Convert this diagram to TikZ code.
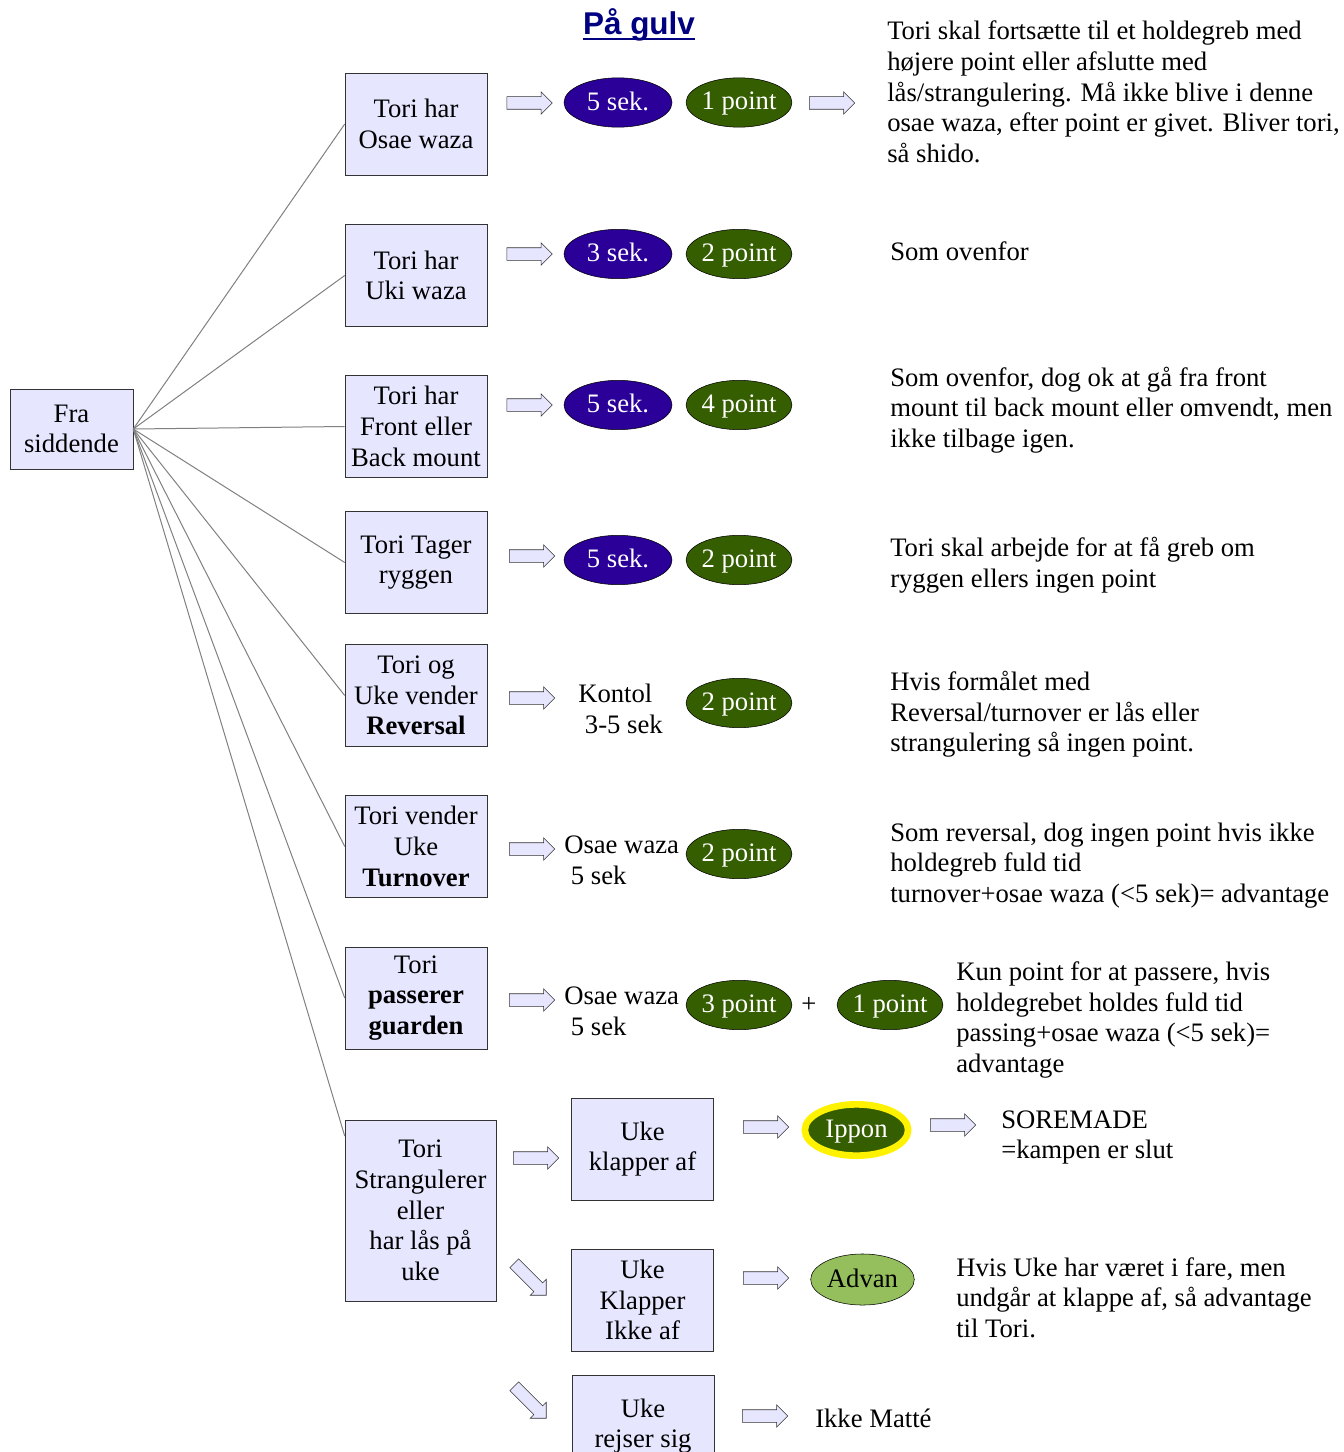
\documentclass[tikz,border=0pt]{standalone}
\usepackage{fontspec}
\setmainfont{Liberation Serif}
\newfontfamily\titlefont{Liberation Sans}
\usepackage{xcolor}
\usetikzlibrary{shapes,arrows,positioning,calc}
\definecolor{boxfill}{HTML}{E6E6FF}
\definecolor{sekblue}{HTML}{2A0099}
\definecolor{ptgreen}{HTML}{355E00}
\definecolor{advgreen}{HTML}{94BF5C}
\definecolor{titleblue}{HTML}{000080}

\begin{document}
\begin{tikzpicture}[x=0.75pt,y=-0.75pt,
  every node/.style={font=\fontsize{20}{23}\selectfont},
  box/.style={draw=black!80, fill=boxfill, align=center, inner sep=0pt,
    minimum width=106.5pt, minimum height=76.5pt},
  sek/.style={ellipse, draw=black, fill=sekblue, text=white, inner sep=0pt,
    minimum width=81pt, minimum height=37pt, text depth=0.2em},
  pt/.style={ellipse, draw=black, fill=ptgreen, text=white, inner sep=0pt,
    minimum width=78pt, minimum height=37pt, text depth=0.2em},
  arr/.style={single arrow, draw=black!80, fill=boxfill, inner xsep=0pt, inner ysep=4.5pt,
    minimum height=34pt, single arrow head extend=3.75pt},
  desc/.style={align=left, anchor=west, inner sep=0pt},
  fan/.style={draw=black!50, line width=0.75pt}]
  \useasboundingbox (0,0) rectangle (1344,1452);

  \node[font=\titlefont\bfseries\fontsize{23.6}{28}\selectfont, text=titleblue, inner sep=0pt] (title) at (639,25) {På gulv};
  \draw[titleblue, line width=1.5pt] ($(title.base west)+(0,4)$) -- ($(title.base east)+(0,4)$);

  \node[box, minimum width=92.25pt, minimum height=60pt] (fra) at (71.5,429) {Fra\\siddende};
  \node[box] (osae) at (416,124) {Tori har\\Osae waza};
  \node[box] (uki) at (416,275.5) {Tori har\\Uki waza};
  \node[box] (mount) at (416,426.5) {Tori har\\Front eller\\Back mount};
  \node[box] (ryg) at (416,562.5) {Tori Tager\\ryggen};
  \node[box] (rev) at (416,695.5) {Tori og\\Uke vender\\\textbf{Reversal}};
  \node[box] (turn) at (416,846.5) {Tori vender\\Uke\\\textbf{Turnover}};
  \node[box] (guard) at (416,998) {Tori\\\textbf{passerer}\\\textbf{guarden}};
  \node[box, minimum width=113.25pt, minimum height=135.75pt] (strang) at (420.5,1210.5)
    {Tori\\Strangulerer\\eller\\har lås på\\uke};
  \node[box] (klap) at (642.5,1149) {Uke\\klapper af};
  \node[box] (ikkeaf) at (642.5,1300) {Uke\\Klapper\\Ikke af};
  \node[box] (rejs) at (643,1426) {Uke\\rejser sig};

  \draw[fan] (fra.east) -- (osae.west);
  \draw[fan] (fra.east) -- (uki.west);
  \draw[fan] (fra.east) -- (mount.west);
  \draw[fan] (fra.east) -- (ryg.west);
  \draw[fan] (fra.east) -- (rev.west);
  \draw[fan] (fra.east) -- (turn.west);
  \draw[fan] (fra.east) -- (guard.west);
  \draw[fan] (fra.east) -- ($(strang.north west)!0.09!(strang.south west)$);

  \node[arr] (a1) at (526.5,103) {};
  \node[sek] (s1) at (618,102.5) {5 sek.};
  \node[pt] (p1) at (739,102.5) {1 point};
  \node[arr] (a1b) at (829,103) {};
  \node[desc] (d1) at (887,92) {Tori skal fortsætte til et holdegreb med\\højere point eller afslutte med\\lås/strangulering. Må ikke blive i denne\\osae waza, efter point er givet. Bliver tori,\\så shido.};

  \node[arr] (a2) at (526.5,254) {};
  \node[sek] (s2) at (618,254) {3 sek.};
  \node[pt] (p2) at (739,254) {2 point};
  \node[desc] (d2) at (890,251) {Som ovenfor};

  \node[arr] (a3) at (526.5,405) {};
  \node[sek] (s3) at (618,405) {5 sek.};
  \node[pt] (p3) at (739,405) {4 point};
  \node[desc] (d3) at (890,410) {Som ovenfor, dog ok at gå fra front\\mount til back mount eller omvendt, men\\ikke tilbage igen.};

  \node[arr] (a4) at (529,556) {};
  \node[sek] (s4) at (618,560) {5 sek.};
  \node[pt] (p4) at (739,560) {2 point};
  \node[desc] (d4) at (890,565.5) {Tori skal arbejde for at få greb om\\ryggen ellers ingen point};

  \node[arr] (a5) at (529,698) {};
  \node[desc] (k5) at (578,709) {Kontol\\\hspace*{0.25em}3-5 sek};
  \node[pt] (p5) at (739,703) {2 point};
  \node[desc] (d5) at (890,714.5) {Hvis formålet med\\Reversal/turnover er lås eller\\strangulering så ingen point.};

  \node[arr] (a6) at (529,849) {};
  \node[desc] (k6) at (564,860) {Osae waza\\\hspace*{0.25em}5 sek};
  \node[pt] (p6) at (739,854) {2 point};
  \node[desc] (d6) at (890,865.5) {Som reversal, dog ingen point hvis ikke\\holdegreb fuld tid\\turnover+osae waza (<5 sek)= advantage};

  \node[arr] (a7) at (529,1000) {};
  \node[desc] (k7) at (564,1011) {Osae waza\\\hspace*{0.25em}5 sek};
  \node[pt] (p7) at (739,1005) {3 point};
  \node (plus) at (809,1005) {+};
  \node[pt] (p7b) at (890,1005) {1 point};
  \node[desc] (d7) at (956,1020) {Kun point for at passere, hvis\\holdegrebet holdes fuld tid\\passing+osae waza (<5 sek)=\\advantage};

  \node[arr] (a8) at (533,1158) {};
  \node[arr, rotate=-45] (a8b) at (528,1277) {};
  \node[arr, rotate=-45] (a8c) at (528,1400) {};

  \node[arr] (a9) at (763,1127) {};
  \node[pt, draw=yellow, line width=5pt, minimum width=77.5pt, minimum height=38.5pt] (ippon) at (856.5,1130) {Ippon};
  \node[arr] (a9b) at (950,1125) {};
  \node[desc] (d9) at (1001,1137.5) {SOREMADE\\=kampen er slut};

  \node[arr] (a10) at (763,1278) {};
  \node[pt, fill=advgreen, text=black, minimum width=77.7pt, minimum height=38.3pt] (advan) at (862.5,1279.5) {Advan};
  \node[desc] (d10) at (956,1297.5) {Hvis Uke har været i fare, men\\undgår at klappe af, så advantage\\til Tori.};

  \node[arr] (a11) at (762,1416) {};
  \node[desc] (d11) at (815,1418) {Ikke Matté};
\end{tikzpicture}
\end{document}
